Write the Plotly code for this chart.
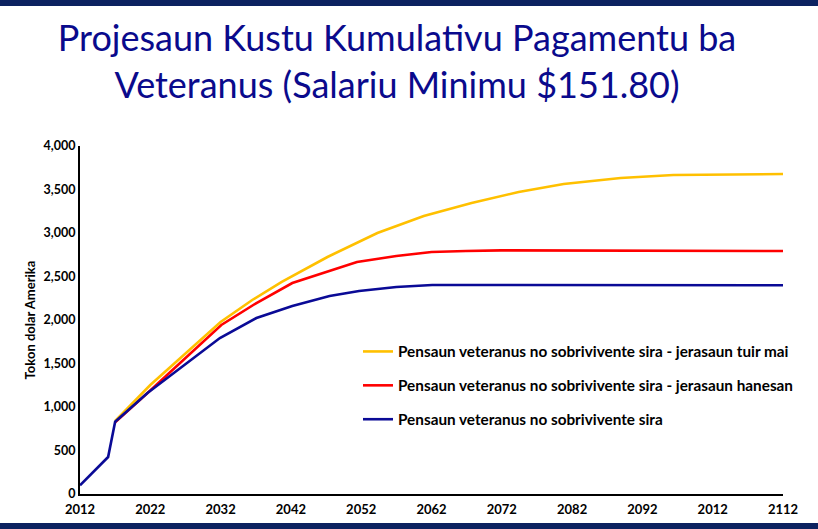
import plotly.graph_objects as go

# Data (year, cumulative cost)
yellow_years = [2017, 2022, 2032, 2036.5, 2040.7, 2047.2, 2054.3, 2060.9, 2067.7, 2074.4, 2080.8, 2088.9, 2096.4, 2112]
yellow_vals = [840, 1253, 1977, 2230, 2437, 2724, 3000, 3195, 3345, 3471, 3563, 3632, 3667, 3678]

red_years = [2017, 2021.6, 2032.1, 2037.1, 2042.2, 2051.4, 2057, 2062, 2066.9, 2071.9, 2112]
red_vals = [825, 1161, 1943, 2195, 2425, 2667, 2736, 2782, 2793, 2800, 2793]

blue_years = [2012, 2016, 2017, 2021.6, 2031.9, 2037.1, 2042.2, 2047.5, 2051.7, 2057, 2062.1, 2112]
blue_vals = [100, 425, 831, 1161, 1793, 2023, 2161, 2276, 2333, 2379, 2402, 2400]

tick_years = [2012, 2022, 2032, 2042, 2052, 2062, 2072, 2082, 2092, 2102, 2112]
tick_labels = ["2012", "2022", "2032", "2042", "2052", "2062", "2072", "2082", "2092", "2012", "2112"]

y_ticks = [0, 500, 1000, 1500, 2000, 2500, 3000, 3500, 4000]

names = {
    "yellow": "Pensaun veteranus no sobrivivente sira - jerasaun tuir mai",
    "red": "Pensaun veteranus no sobrivivente sira - jerasaun hanesan",
    "blue": "Pensaun veteranus no sobrivivente sira",
}

FONT = "Lato"
NAVY = "#0c2260"
W, H = 818, 529
L, R, T, B = 80, 35, 146, 35

fig = go.Figure()
fig.add_trace(go.Scatter(x=red_years, y=red_vals, mode="lines", name=names["red"],
                         line=dict(color="#ff0000", width=2.6), legendgroup="r", legendrank=2))
fig.add_trace(go.Scatter(x=yellow_years, y=yellow_vals, mode="lines", name=names["yellow"],
                         line=dict(color="#ffc000", width=2.6), legendgroup="y", legendrank=1))
fig.add_trace(go.Scatter(x=blue_years, y=blue_vals, mode="lines", name=names["blue"],
                         line=dict(color="#0a0a96", width=2.6), legendgroup="b", legendrank=3))

fig.update_layout(
    width=W, height=H,
    margin=dict(l=L, r=R, t=T, b=B, autoexpand=False),
    paper_bgcolor="white", plot_bgcolor="white",
    showlegend=True,
    title=dict(
        text="Projesaun Kustu Kumulativu Pagamentu ba<br>Veteranus (Salariu Minimu $151.80)",
        font=dict(family=FONT, size=36, color="#0a0a8c"),
        x=397 / W, xanchor="center", xref="container",
        y=1 - 51 / H, yanchor="middle", yref="container",
    ),
    xaxis=dict(
        range=[2012, 2112], tickmode="array", tickvals=tick_years, ticktext=tick_labels,
        showgrid=False, zeroline=False, showline=True, linecolor="black", linewidth=2,
        ticks="", automargin=False, ticklabelstandoff=2,
        tickfont=dict(family=FONT, size=13, color="black", weight="bold"),
    ),
    yaxis=dict(
        range=[0, 4000], tickmode="array", tickvals=y_ticks, tickformat=",",
        showgrid=False, zeroline=False, showline=True, linecolor="black", linewidth=2,
        ticks="", automargin=False,
        tickfont=dict(family=FONT, size=12.5, color="black", weight="bold"),
        title=dict(text="Tokon dolar Amerika", font=dict(family=FONT, size=13, color="black", weight="bold"), standoff=5),
    ),
    legend=dict(
        x=(358 - L) / (W - L - R), y=(494 - 335) / (494 - T), xanchor="left", yanchor="top",
        traceorder="grouped", tracegroupgap=11,
        font=dict(family=FONT, size=15.3, color="black", weight="bold"),
        bgcolor="rgba(0,0,0,0)",
    ),
)

# navy bands at top and bottom of the slide
pw, ph = W - L - R, H - T - B
def px_x(p):
    return (p - L) / pw
def px_y(p):
    return (H - B - p) / ph

fig.add_shape(type="rect", xref="paper", yref="paper",
              x0=px_x(-5), x1=px_x(W + 5), y0=px_y(6), y1=px_y(-5),
              line=dict(width=0), fillcolor=NAVY, layer="above")
fig.add_shape(type="rect", xref="paper", yref="paper",
              x0=px_x(-5), x1=px_x(W + 5), y0=px_y(H + 5), y1=px_y(523),
              line=dict(width=0), fillcolor=NAVY, layer="above")

fig.write_html("out.html", config={"displayModeBar": False},
               post_script="document.body.style.margin='0';document.body.style.padding='0';")
